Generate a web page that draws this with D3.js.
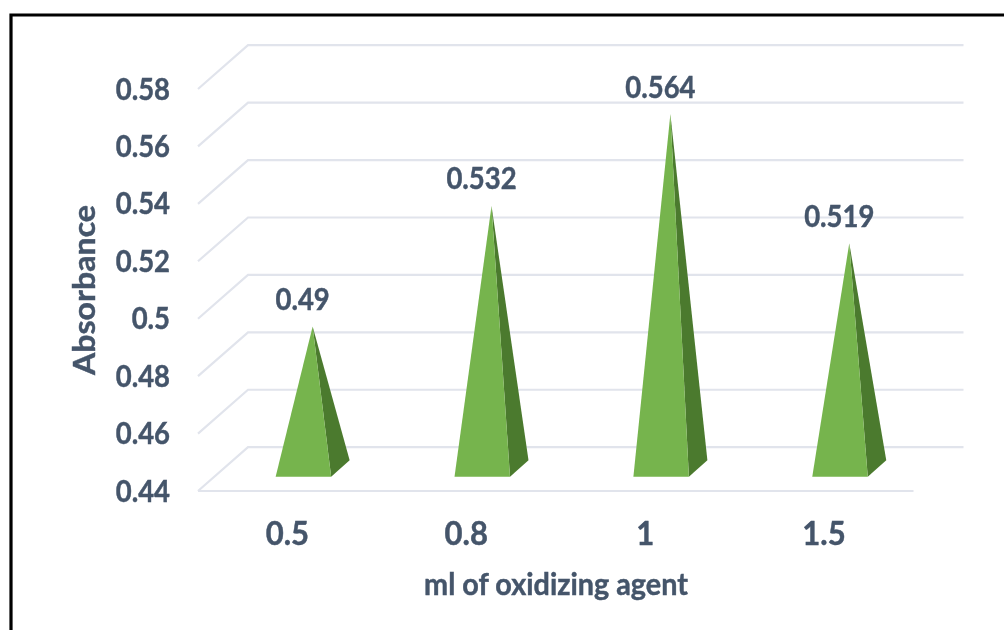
<!DOCTYPE html>
<html><head><meta charset="utf-8"><script src="https://cdn.jsdelivr.net/npm/d3@7"></script>
<style>html,body{margin:0;padding:0;background:#fff}svg{display:block}text{font-family:Lato,"Open Sans",sans-serif;font-weight:700;fill:#44546a;stroke:#44546a;stroke-width:.45px}</style></head>
<body><div id="c"></div><script>
const categories = ["0.5","0.8","1","1.5"];
const values = [0.49,0.532,0.564,0.519];
const valueLabels = ["0.49","0.532","0.564","0.519"];
const yTicks = [0.44,0.46,0.48,0.5,0.52,0.54,0.56,0.58];
const W=1004,H=630;
const svg=d3.select("#c").append("svg").attr("width",W).attr("height",H);
const defs=svg.append("defs");
defs.append("filter").attr("id","soft").append("feGaussianBlur").attr("stdDeviation",0.6);
const root=svg.append("g").attr("filter","url(#soft)");
// condense glyphs to the reference's narrower letterforms
function squeeze(sel,f){sel.each(function(){this.setAttribute("textLength",this.getComputedTextLength()*f);this.setAttribute("lengthAdjust","spacingAndGlyphs");});return sel;}
root.append("path").attr("d",`M11,${H+5}V15H${W+5}`).attr("fill","none").attr("stroke","#000").attr("stroke-width",3.2);
const yFront=d3.scaleLinear().domain([0.44,0.58]).range([491,89]);
const depthX=50, depthY=-43.8;
const xLeft=198,xRight=913.5;
const grid=root.append("g").attr("fill","none").attr("stroke","#e1e4ec").attr("stroke-width",2.2);
yTicks.forEach(t=>{
  const y=yFront(t);
  grid.append("path").attr("d",d3.line()([[xLeft,y],[xLeft+depthX,y+depthY],[xRight+depthX,y+depthY]]));
});
grid.append("line").attr("x1",xLeft).attr("x2",xRight).attr("y1",yFront(0.44)).attr("y2",yFront(0.44));
squeeze(root.append("g").selectAll("text").data(yTicks).join("text")
 .attr("x",170).attr("y",d=>yFront(d)+10.5).attr("text-anchor","end").attr("font-size",30).text(d=>d),0.915);
const xFront=d3.scaleBand().domain(categories).range([xLeft,xRight]);
const baseW=55.5, ridgeDX=18.5, ridgeDY=-16.5, baseY=476.7;
const apexY=d3.scaleLinear().domain([0.49,0.564]).range([326.5,114]);
const cx=c=>xFront(c)+xFront.bandwidth()/2;
const g=root.append("g");
categories.forEach((c,i)=>{
  const xl=cx(c)-11.8, xr=xl+baseW, ax=xl+37, ay=apexY(values[i]);
  g.append("path").attr("d",d3.line()([[ax,ay],[xr,baseY],[xr+ridgeDX,baseY+ridgeDY]])+"Z").attr("fill","#4c7a2e");
  g.append("path").attr("d",d3.line()([[ax,ay],[xl,baseY],[xr,baseY]])+"Z").attr("fill","#76b44d");
  squeeze(root.append("text").attr("x",ax-10).attr("y",ay-16.5).attr("text-anchor","middle").attr("font-size",30).text(valueLabels[i]),0.915);
  squeeze(root.append("text").attr("x",cx(c)).attr("y",544.5).attr("text-anchor","middle").attr("font-size",32).text(c),0.97);
});
squeeze(root.append("text").attr("x",556).attr("y",595).attr("text-anchor","middle").attr("font-size",30).text("ml of oxidizing agent"),0.96);
squeeze(root.append("text").attr("transform","translate(95,290) rotate(-90)").attr("text-anchor","middle").attr("font-size",30).text("Absorbance"),1.07);
</script></body></html>
